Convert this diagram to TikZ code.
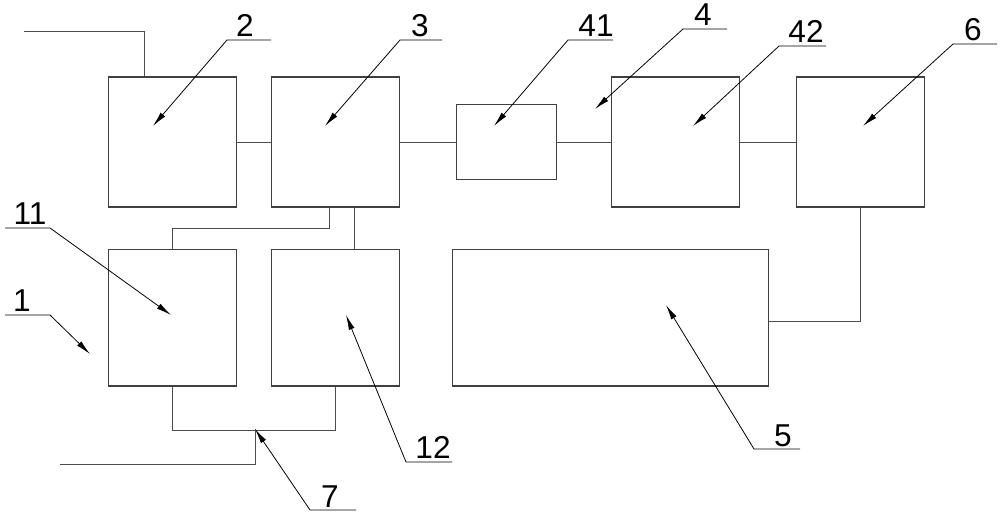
\documentclass[tikz,border=0pt]{standalone}
\usepackage{fontspec}
\setmainfont{Liberation Sans}
\usepackage{tikz}
\usetikzlibrary{arrows.meta,positioning,calc}
\tikzset{
  bloco/.style={rectangle, draw=black!75, line width=0.6pt, fill=white,
                minimum width=2.56cm, minimum height=2.6cm, inner sep=0pt},
  blocobaixo/.style={bloco, minimum height=2.74cm},
  fio/.style={draw=black!70, line width=0.55pt},
  seta/.style={-{Latex[length=3mm,width=1.2mm]}, line width=0.45pt, black},
  numero/.style={inner sep=0pt, anchor=base, font=\fontsize{18}{18}\selectfont},
}

\begin{document}
\begin{tikzpicture}[x=0.02cm, y=-0.02cm]
  \useasboundingbox (0,0) rectangle (1000,516);

  % linha superior
  \node[bloco] (b2) at (172.5,142) {};
  \node[bloco, right=0.68cm of b2] (b3) {};
  \node[bloco, minimum width=2cm, minimum height=1.5cm, right=1.12cm of b3] (b41) {};
  \node[bloco, right=1.08cm of b41] (b42) {};
  \node[bloco, right=1.12cm of b42] (b6) {};
  % linha inferior
  \node[blocobaixo, below=0.82cm of b2] (b11) {};
  \node[blocobaixo, below=0.82cm of b3] (b12) {};
  \node[blocobaixo, minimum width=6.32cm, right=1.04cm of b12] (b5) {};

  % ligacoes
  \coordinate (entrada) at (24,31);
  \draw[fio] (entrada) -| ([xshift=0.74cm]b2.north west);
  \draw[fio] (b2.east) -- (b3.west);
  \draw[fio] (b3.east) -- (b41.west);
  \draw[fio] (b41.east) -- (b42.west);
  \draw[fio] (b42.east) -- (b6.west);
  \draw[fio] ([xshift=1.16cm]b3.south west) -- ++(0,21) -| (b11.north);
  \draw[fio] ([xshift=1.66cm]b3.south west) -- ([xshift=1.66cm]b12.north west);
  \draw[fio] (b6.south) |- ([yshift=-0.07cm]b5.east);
  \draw[fio] (b11.south) -- ++(0,44) -| (b12.south);
  \coordinate (j7) at (255,429);
  \coordinate (saida) at (60,464);
  \draw[fio] (j7) |- (saida);

  % referencias
  \coordinate (t2) at (153,126);
  \node[numero] (n2) at (245,37) {2};
  \draw[seta] (271,40) -- (227,40) -- (t2);

  \coordinate (t3) at (325,126);
  \node[numero] (n3) at (420,37) {3};
  \draw[seta] (442,40) -- (400,40) -- (t3);

  \coordinate (t41) at (494,126);
  \node[numero] (n41) at (596,37) {41};
  \draw[seta] (613,40) -- (568,40) -- (t41);

  \coordinate (t4) at (595,109);
  \node[numero] (n4) at (703,26) {4};
  \draw[seta] (727,29) -- (683,29) -- (t4);

  \coordinate (t42) at (693,126);
  \node[numero] (n42) at (806,43) {42};
  \draw[seta] (826,46) -- (779,46) -- (t42);

  \coordinate (t6) at (863,126);
  \node[numero] (n6) at (973,41) {6};
  \draw[seta] (997,44) -- (953,44) -- (t6);

  \coordinate (t11) at (171,315);
  \node[numero] (n11) at (30,225) {11};
  \draw[seta] (5,228) -- (50,228) -- (t11);

  \coordinate (t1) at (90,354);
  \node[numero] (n1) at (22,312) {1};
  \draw[seta] (5,315) -- (50,315) -- (t1);

  \coordinate (t12) at (346,315);
  \node[numero] (n12) at (433,459) {12};
  \draw[seta] (452,462) -- (406,462) -- (t12);

  \coordinate (t5) at (666,305);
  \node[numero] (n5) at (783,446) {5};
  \draw[seta] (800,449) -- (754,449) -- (t5);

  \node[numero] (n7) at (330,507) {7};
  \draw[seta] (356,510) -- (310,510) -- (j7);
\end{tikzpicture}
\end{document}
